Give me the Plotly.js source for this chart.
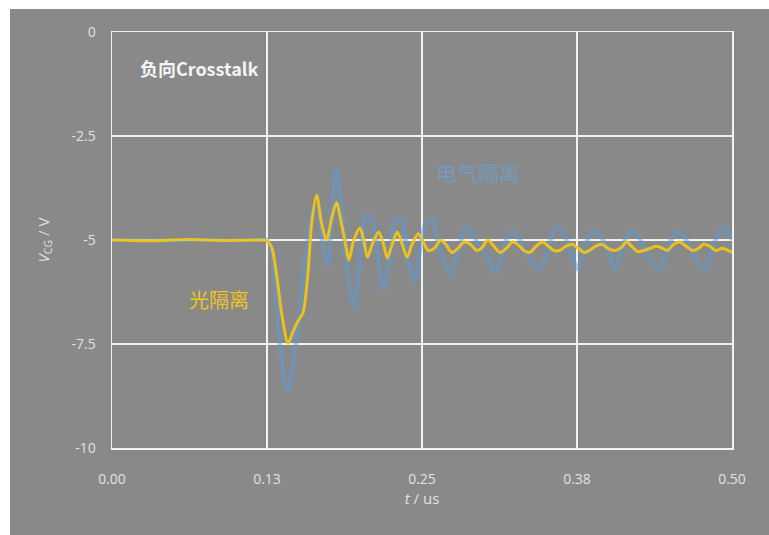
<!DOCTYPE html>
<html>
<head>
<meta charset="utf-8">
<script src="https://cdn.plot.ly/plotly-3.0.1.min.js"></script>
<style>
html,body{margin:0;padding:0;background:#ffffff;width:769px;height:535px;overflow:hidden;}
#chart{position:absolute;left:10px;top:9px;width:759px;height:526px;}
</style>
</head>
<body>
<div id="chart"></div>
<script>
// Time axis (us) and voltages (V)
const tBlue = [0,0.02,0.05,0.08,0.10,0.125,0.129,0.134,0.139,0.142,0.146,0.152,0.157,0.162,0.166,0.170,0.174,0.177,0.181,0.185,0.190,0.195,0.200,0.205,0.210,0.215,0.219,0.224,0.229,0.234,0.239,0.244,0.248,0.253,0.258,0.263,0.269,0.274,0.280,0.285,0.290,0.297,0.303,0.309,0.315,0.321,0.327,0.334,0.340,0.346,0.352,0.358,0.365,0.371,0.376,0.381,0.387,0.394,0.400,0.406,0.411,0.418,0.424,0.431,0.437,0.443,0.448,0.455,0.461,0.468,0.474,0.479,0.484,0.490,0.495,0.500];
const vBlue = [-5.0,-4.98,-5.02,-4.99,-5.01,-5.0,-5.3,-7.0,-8.4,-8.6,-8.0,-6.5,-5.2,-4.3,-4.2,-5.2,-5.6,-4.4,-3.3,-4.2,-5.8,-6.6,-5.5,-4.4,-4.5,-5.6,-6.2,-5.4,-4.5,-4.6,-5.5,-6.0,-5.3,-4.6,-4.5,-5.1,-5.6,-5.8,-5.2,-4.7,-4.8,-5.2,-5.4,-5.8,-5.3,-4.8,-4.9,-5.3,-5.6,-5.7,-5.2,-4.7,-4.9,-5.4,-5.7,-5.2,-4.8,-4.9,-5.3,-5.7,-5.2,-4.8,-4.9,-5.3,-5.6,-5.7,-5.2,-4.8,-4.9,-5.3,-5.6,-5.7,-5.2,-4.8,-4.7,-5.0];

const tYellow = [0,0.03,0.06,0.09,0.119,0.125,0.129,0.133,0.137,0.142,0.146,0.150,0.154,0.158,0.161,0.165,0.169,0.173,0.177,0.181,0.185,0.189,0.191,0.195,0.200,0.203,0.206,0.210,0.215,0.219,0.222,0.226,0.230,0.234,0.238,0.242,0.247,0.251,0.255,0.260,0.265,0.269,0.274,0.279,0.284,0.289,0.294,0.298,0.303,0.308,0.313,0.318,0.323,0.327,0.332,0.337,0.342,0.347,0.352,0.356,0.361,0.366,0.371,0.376,0.381,0.385,0.390,0.395,0.400,0.405,0.410,0.415,0.419,0.424,0.429,0.434,0.439,0.444,0.448,0.453,0.458,0.463,0.468,0.473,0.477,0.482,0.487,0.492,0.497,0.500];
const vYellow = [-5.0,-5.02,-4.99,-5.01,-5.0,-5.02,-5.2,-5.9,-6.8,-7.48,-7.2,-6.95,-6.75,-5.8,-4.6,-3.92,-4.6,-5.0,-4.5,-4.1,-4.6,-5.2,-5.48,-5.0,-4.71,-5.0,-5.41,-5.1,-4.81,-5.1,-5.43,-5.1,-4.81,-5.1,-5.41,-5.1,-4.85,-5.05,-5.25,-5.2,-5.0,-5.1,-5.3,-5.2,-5.05,-5.1,-5.25,-5.2,-5.0,-5.15,-5.3,-5.2,-5.05,-5.1,-5.25,-5.3,-5.15,-5.05,-5.15,-5.25,-5.25,-5.15,-5.1,-5.2,-5.3,-5.25,-5.15,-5.1,-5.2,-5.25,-5.2,-5.05,-5.15,-5.28,-5.25,-5.2,-5.15,-5.2,-5.25,-5.1,-5.05,-5.15,-5.25,-5.2,-5.1,-5.15,-5.25,-5.2,-5.25,-5.3];

const xTickVals = [0,0.125,0.25,0.375,0.5];
const xTickText = ['0.00','0.13','0.25','0.38','0.50'];
const yTickVals = [0,-2.5,-5,-7.5,-10];
const yTickText = ['0','-2.5','-5','-7.5','-10'];

const traces = [
  {x:tBlue, y:vBlue, mode:'lines', name:'电气隔离',
   line:{color:'#5b9bd5', width:4.5, shape:'spline', smoothing:0.8}, opacity:0.5},
  {x:tYellow, y:vYellow, mode:'lines', name:'光隔离',
   line:{color:'#f0c419', width:3, shape:'spline', smoothing:0.8}, opacity:0.95}
];

const tickFont = {family:'Open Sans, Liberation Sans, sans-serif', size:14, color:'#e2e2e2'};

const layout = {
  width:759, height:526,
  margin:{l:102, r:37, t:23, b:87},
  paper_bgcolor:'#898989', plot_bgcolor:'#898989',
  showlegend:false,
  xaxis:{range:[0,0.5], tickvals:xTickVals, ticktext:xTickText, showgrid:true,
    gridcolor:'#f2f2f2', gridwidth:1.5, zeroline:false, showline:true, mirror:true,
    linecolor:'#f2f2f2', linewidth:1.5, ticks:'', tickfont:tickFont, ticklabelstandoff:18,
    title:{text:'<i>t</i> / us', font:{family:'Open Sans, sans-serif', size:15, color:'#e2e2e2'}, standoff:6}},
  yaxis:{range:[-10,0], tickvals:yTickVals, ticktext:yTickText, showgrid:true,
    gridcolor:'#f2f2f2', gridwidth:1.5, zeroline:false, showline:true, mirror:true,
    linecolor:'#f2f2f2', linewidth:1.5, ticks:'', tickfont:tickFont, ticklabelstandoff:12,
    title:{text:'<i>V</i><sub>CG</sub> / V', font:{family:'Open Sans, sans-serif', size:15, color:'#e2e2e2'}, standoff:18}},
  annotations:[
    {xref:'paper', yref:'paper', x:0.042, y:0.913, xanchor:'left', yanchor:'middle', showarrow:false,
     text:'负向Crosstalk', font:{family:'Noto Sans CJK SC, sans-serif', size:18, weight:600, color:'#f4f4f4'}},
    {xref:'paper', yref:'paper', x:0.59, y:0.663, xanchor:'center', yanchor:'middle', showarrow:false,
     text:'电气隔离', font:{family:'Noto Sans CJK SC, sans-serif', size:21, color:'#6aa3d8'}, opacity:0.7},
    {xref:'paper', yref:'paper', x:0.173, y:0.356, xanchor:'center', yanchor:'middle', showarrow:false,
     text:'光隔离', font:{family:'Noto Sans CJK SC, sans-serif', size:20, color:'#f0c419'}}
  ]
};

Plotly.newPlot('chart', traces, layout, {displayModeBar:false, staticPlot:true});
</script>
</body>
</html>
